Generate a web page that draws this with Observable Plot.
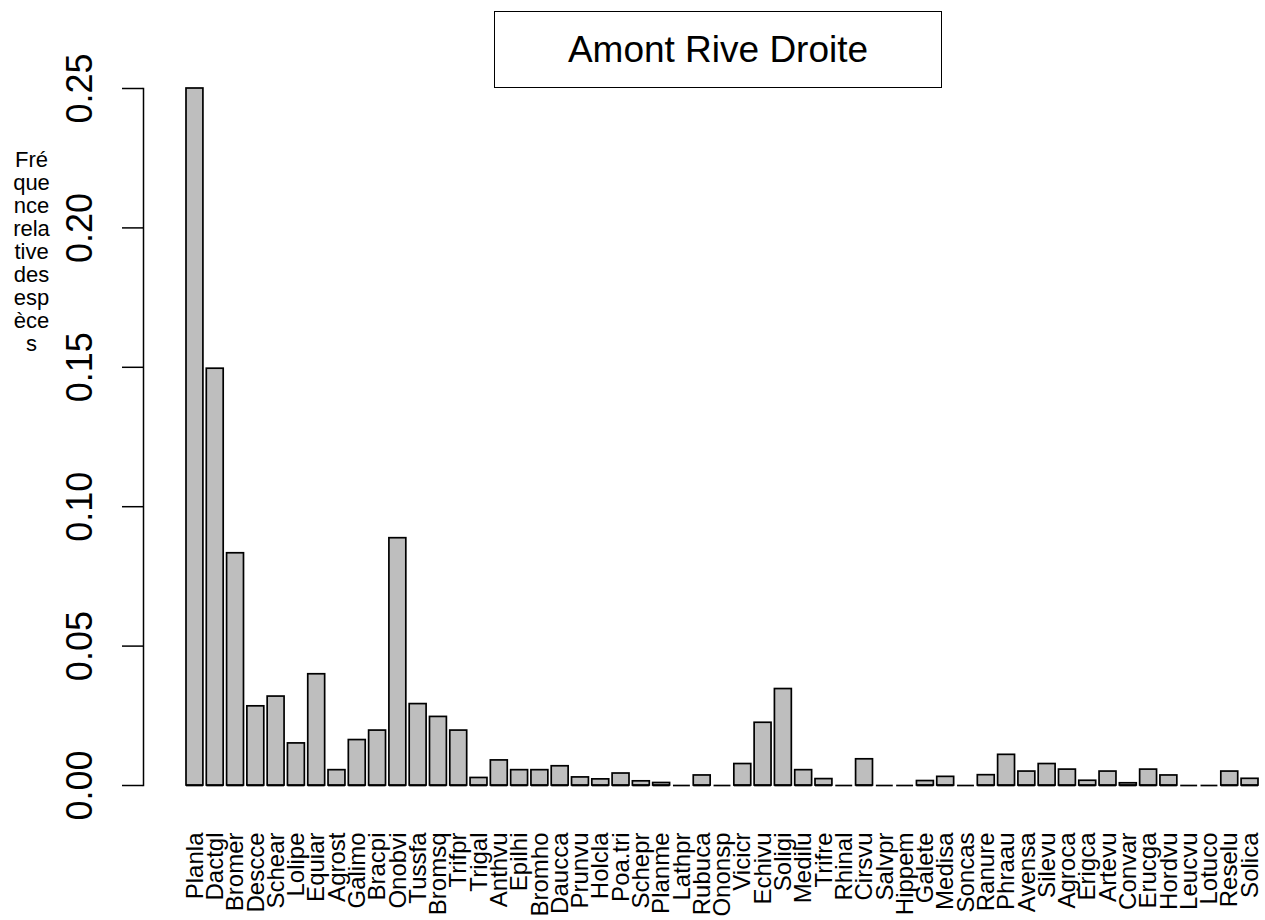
<!DOCTYPE html>
<html><head><meta charset="utf-8">
<script src="https://cdn.jsdelivr.net/npm/d3@7"></script>
<script src="https://cdn.jsdelivr.net/npm/@observablehq/plot@0.6"></script>
<style>
body{margin:0;background:#fff;}
#wrap{position:relative;width:1265px;height:920px;}
#title{position:absolute;left:494px;top:11px;width:448px;height:77px;border:1.5px solid #000;box-sizing:border-box;display:flex;align-items:center;justify-content:center;font:37px "Liberation Sans",Arial,sans-serif;color:#000;}
</style></head><body><div id="wrap"></div>
<script>
const species = ["Planla","Dactgl","Bromer","Descce","Schear","Lolipe","Equiar","Agrost","Galimo","Bracpi","Onobvi","Tussfa","Bromsq","Trifpr","Trigal","Anthvu","Epilhi","Bromho","Daucca","Prunvu","Holcla","Poa.tri","Schepr","Planme","Lathpr","Rubuca","Ononsp","Vicicr","Echivu","Soligi","Medilu","Trifre","Rhinal","Cirsvu","Salvpr","Hippem","Galete","Medisa","Soncas","Ranure","Phraau","Avensa","Silevu","Agroca","Erigca","Artevu","Convar","Erucga","Hordvu","Leucvu","Lotuco","Reselu","Solica"];
const freq = [0.250,0.1495,0.0833,0.0284,0.0319,0.0151,0.0399,0.0055,0.0163,0.0197,0.0887,0.0292,0.0246,0.0197,0.0027,0.0090,0.0055,0.0055,0.0069,0.0029,0.0022,0.0043,0.0015,0.0009,0,0.0036,0,0.0077,0.0225,0.0346,0.0055,0.0023,0,0.0094,0,0,0.0016,0.0031,0,0.0037,0.0110,0.0050,0.0077,0.0057,0.0017,0.0050,0.0008,0.0057,0.0036,0,0,0.0050,0.0024];
const yTicks = [0,0.05,0.10,0.15,0.20,0.25];
const titleText = "Amont Rive Droite";
const yLabelLines = ["Fré","que","nce","rela","tive","des","esp","èce","s"];

const data = species.map((s,i)=>({species:s, freq:freq[i]}));
const font = '"Liberation Sans", Arial, sans-serif';

const chart = Plot.plot({
  width:1265, height:920,
  marginTop:88, marginBottom:135, marginLeft:143, marginRight:0,
  style:{fontFamily:font, background:"white", color:"black"},
  x:{type:"band", domain:species, range:[186,1258], paddingInner:1/6, paddingOuter:0, round:false, axis:null},
  y:{domain:[0,0.25], axis:null},
  marks:[
    Plot.barY(data,{x:"species", y:"freq", fill:"#bebebe", stroke:"black", strokeWidth:1.7}),
    Plot.tickY(data,{x:"species", y:()=>0, stroke:"black", strokeWidth:1.7}),
    Plot.frame({anchor:"left", stroke:"black", strokeWidth:1.5}),
    Plot.axisY({ticks:yTicks, tickSize:21, tickFormat:()=>"", label:null, stroke:"black", strokeWidth:1.5}),
    Plot.text(yTicks,{y:d=>d, text:d=>d3.format(".2f")(d), frameAnchor:"left", dx:-52, rotate:-90, textAnchor:"middle", lineAnchor:"bottom", fontSize:36, fill:"black"}),
    Plot.text(data,{x:"species", text:"species", frameAnchor:"bottom", rotate:-90, textAnchor:"end", lineAnchor:"middle", dy:47, fontSize:24, fill:"black"}),
    Plot.text([yLabelLines.join("\n")],{text:d=>d, frameAnchor:"top-left", dx:-112, dy:62, textAnchor:"middle", lineAnchor:"top", fontSize:22, lineHeight:23/22, fill:"black"})
  ]
});
const wrap = document.getElementById("wrap");
wrap.appendChild(chart);
const t = document.createElement("div");
t.id = "title"; t.textContent = titleText;
wrap.appendChild(t);
</script>
</body></html>
